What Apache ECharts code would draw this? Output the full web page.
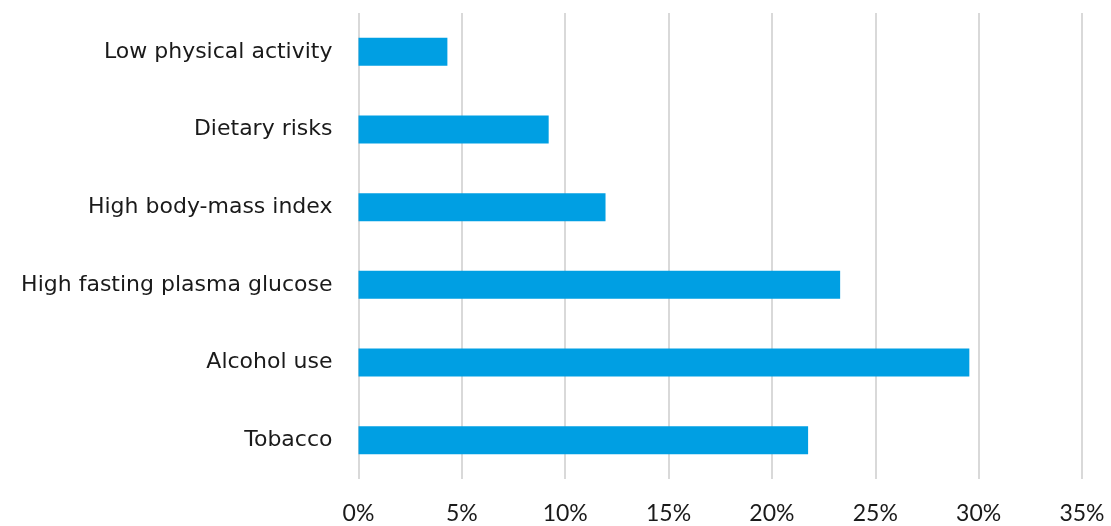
<!DOCTYPE html>
<html><head><meta charset="utf-8">
<script src="https://cdn.jsdelivr.net/npm/echarts@6/dist/echarts.min.js"></script>
<style>html,body{margin:0;padding:0;background:#fff}#c{width:1111px;height:526px}</style>
</head><body><div id="c"></div>
<script>
const categories = ["Low physical activity","Dietary risks","High body-mass index","High fasting plasma glucose","Alcohol use","Tobacco"];
const values = [4.3, 9.2, 11.95, 23.3, 29.55, 21.75];
const tickValues = [0,5,10,15,20,25,30,35];

const chart = echarts.init(document.getElementById('c'));
chart.setOption({
  animation:false,
  grid:{left:358.5,right:29,top:13,bottom:47,containLabel:false},
  xAxis:{type:'value',min:0,max:35,interval:5,
    axisLine:{show:false},axisTick:{show:false},
    splitLine:{show:true,lineStyle:{color:'#d9d9d9',width:2}},
    axisLabel:{formatter:'{value}%',fontFamily:'Lato, sans-serif',fontSize:23,color:'#1a1a1a',margin:23}},
  yAxis:{type:'category',data:categories,inverse:true,
    axisLine:{show:false},axisTick:{show:false},
    axisLabel:{fontFamily:'DejaVu Sans',fontSize:22,color:'#1a1a1a',margin:26,padding:[2,0,0,0]}},
  series:[{type:'bar',data:values,barWidth:28,itemStyle:{color:'#009FE3'}}]
});
</script></body></html>
